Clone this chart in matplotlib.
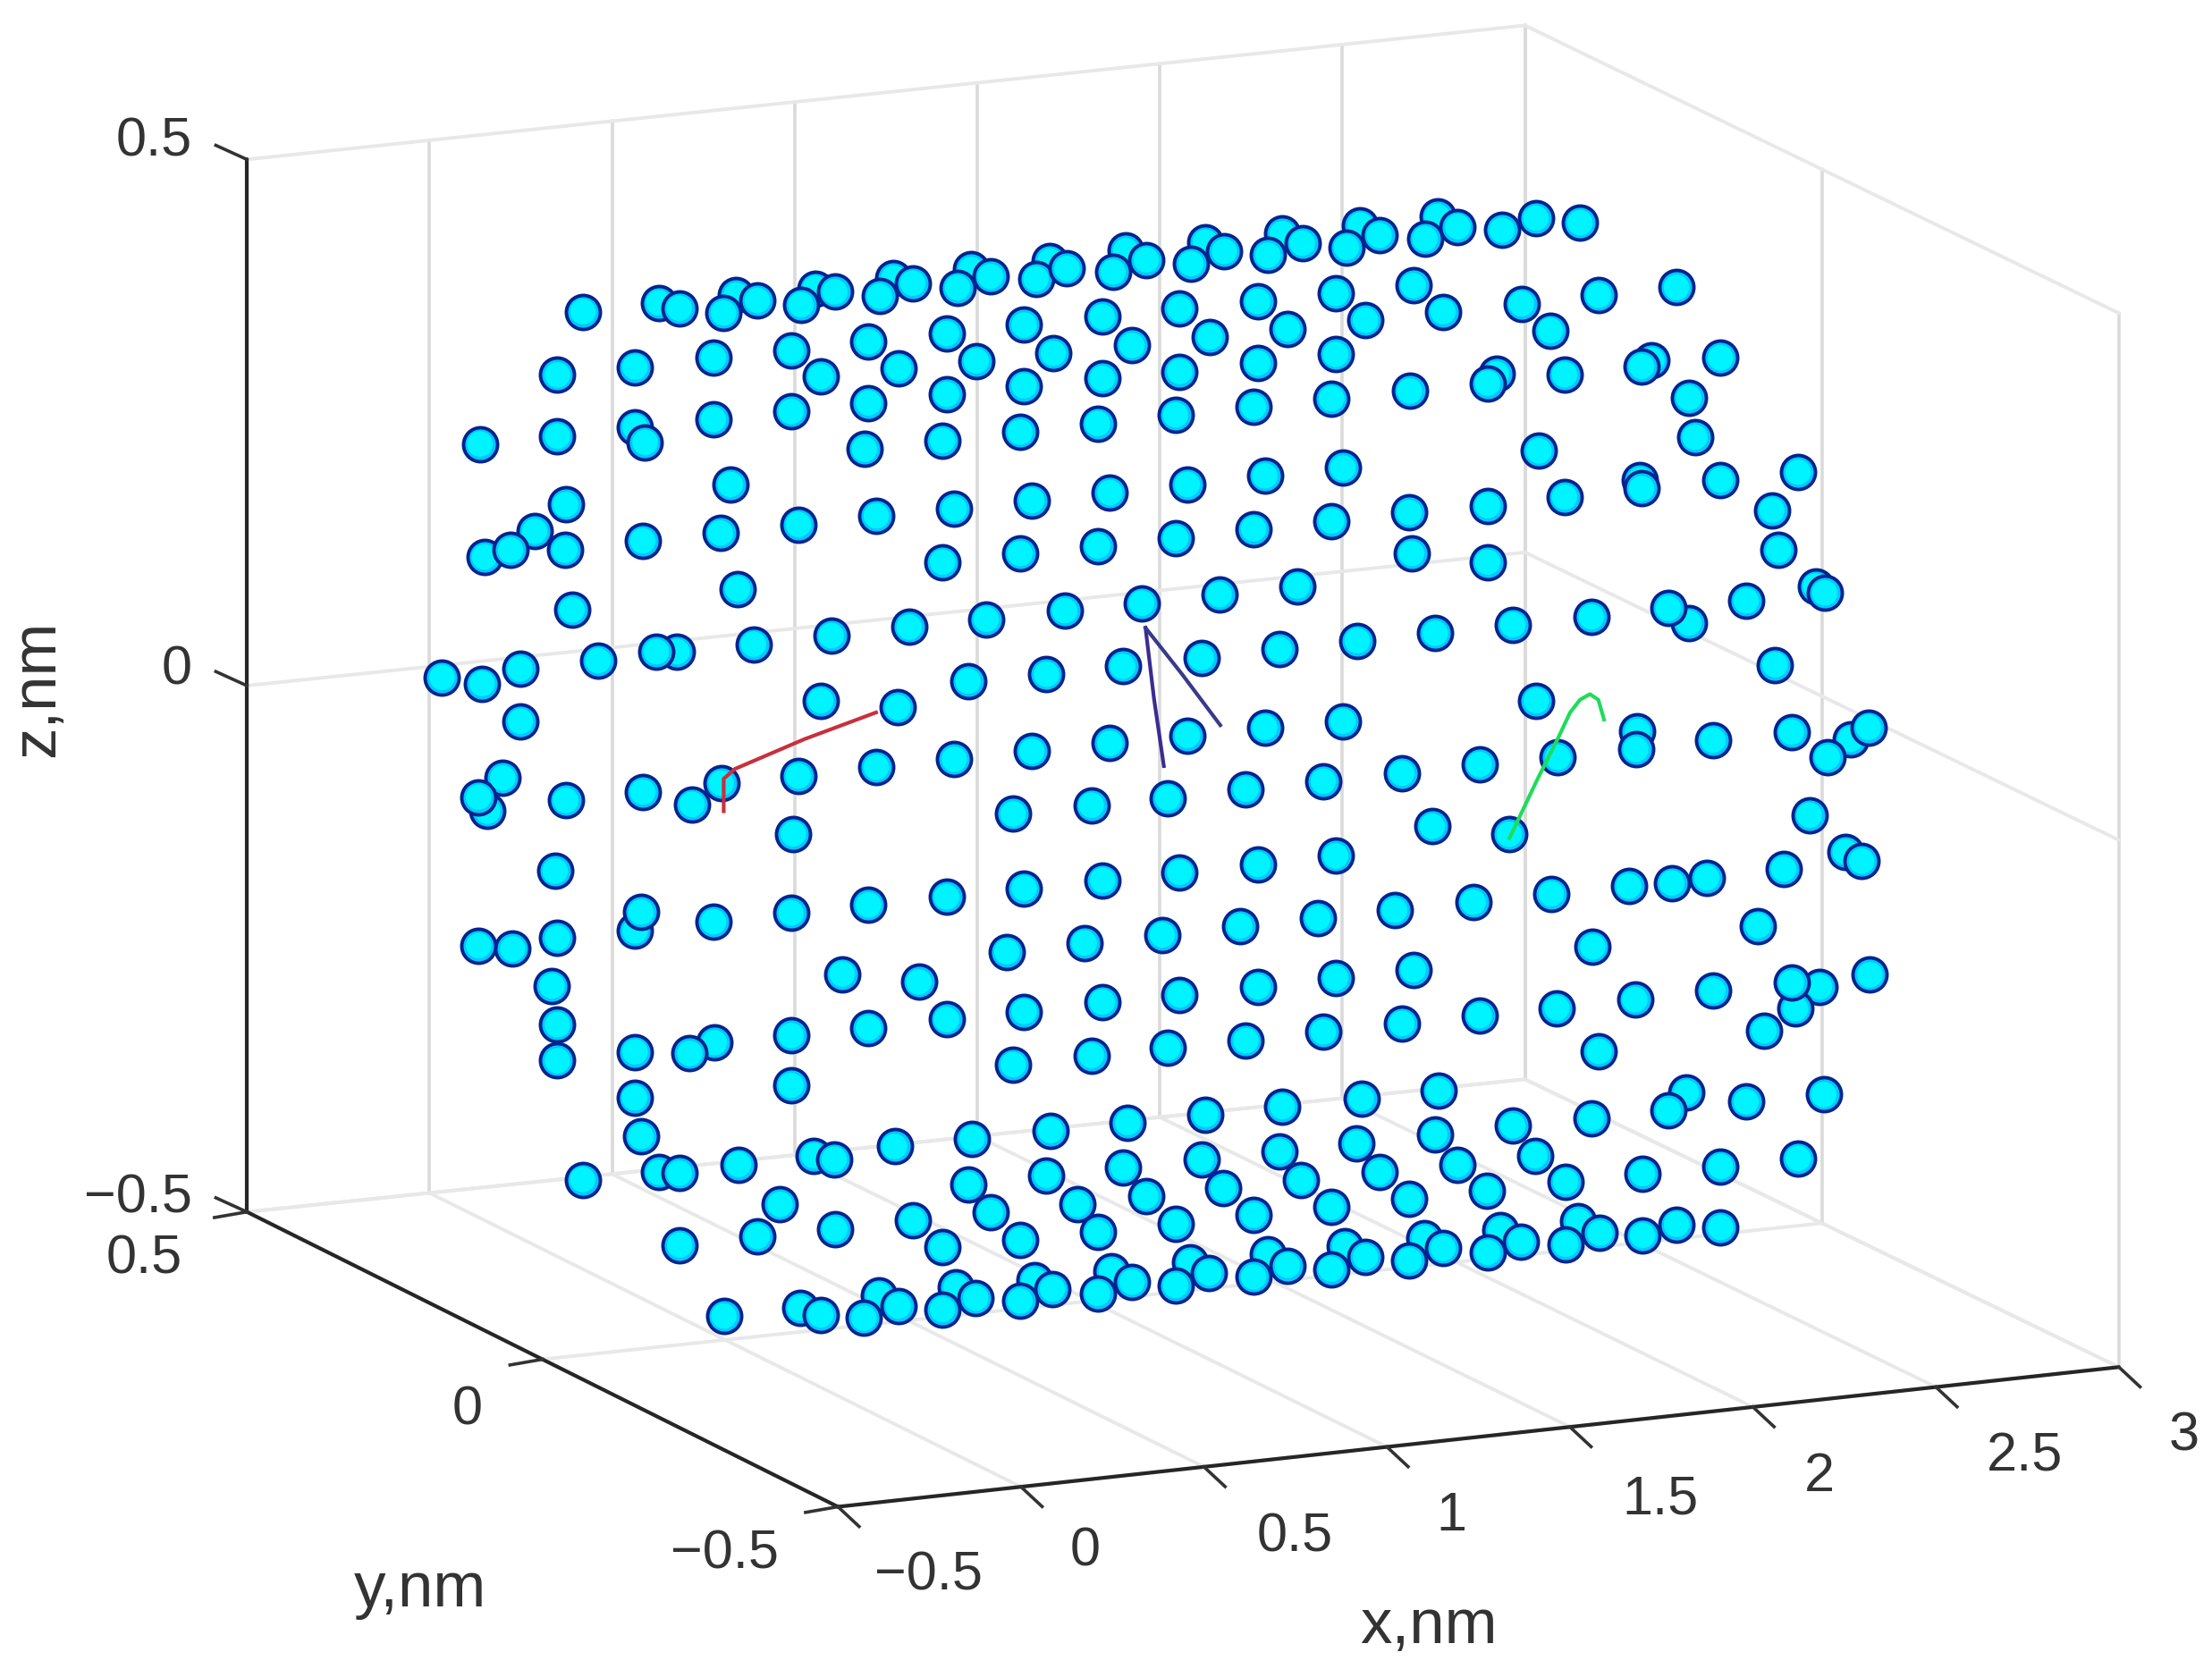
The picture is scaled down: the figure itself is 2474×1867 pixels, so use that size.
import matplotlib
matplotlib.use('Agg')
import matplotlib.pyplot as plt
import numpy as np

plt.rcParams['font.family'] = ['Liberation Sans', 'DejaVu Sans']

# box corners on screen (px of the 1568 wide view), index = (x hi, y hi, z hi)
corners = {
    (0, 1, 0): (175, 859), (1, 1, 0): (1081, 765), (0, 0, 0): (594, 1068), (1, 0, 0): (1502, 969),
    (0, 1, 1): (175, 113), (1, 1, 1): (1081, 18), (0, 0, 1): (594, 321), (1, 0, 1): (1502, 222),
}
x_lim = (-0.5, 3)
y_lim = (-0.5, 0.5)
z_lim = (-0.5, 0.5)
x_ticks = [-0.5, 0, 0.5, 1, 1.5, 2, 2.5, 3]
y_ticks = [-0.5, 0, 0.5]
z_ticks = [-0.5, 0, 0.5]

x_labels = ['\u22120.5', '0', '0.5', '1', '1.5', '2', '2.5', '3']
x_label_px = [658, 769, 918, 1029, 1177, 1290, 1435, 1548]
x_label_py = [1117, 1100, 1090, 1075, 1063, 1047, 1033, 1018]
y_labels = ['\u22120.5', '0', '0.5']
y_label_px = [514, 331, 102]
y_label_py = [1102, 1000, 893]
z_labels = ['\u22120.5', '0', '0.5']
z_label_px = [98, 125, 109]
z_label_py = [850, 475, 101]

# atom centres read per crop of the full image: (crop px, crop py)
# crop = (left, top, width, height) in the 2474 wide image, all shown 1568 wide/high
crop_ul = (400, 200, 800, 600)
crop_ur = (1200, 200, 900, 600)
crop_ll = (400, 800, 800, 700)
crop_lr = (1200, 800, 900, 700)

behind_ul = [(660, 362), (830, 340), (1003, 320), (1175, 290), (1345, 265), (1518, 240), (608, 725),
             (388, 1030), (278, 1105), (700, 1382)]
atoms_ul = [(494, 388), (705, 378), (802, 392), (876, 355), (972, 368), (1046, 330), (1144, 343),
            (1217, 305), (1315, 318), (1387, 285), (1487, 292), (1555, 262),
            (950, 502), (1120, 476), (1291, 452), (1461, 427), (1525, 510), (1356, 532), (1186, 553),
            (1015, 578), (780, 523), (608, 550), (438, 573),
            (1291, 630), (1461, 605), (1120, 655), (950, 680), (780, 703), (630, 770), (438, 752),
            (268, 775), (1452, 740), (1282, 765), (1111, 790),
            (817, 893), (456, 952), (335, 1085), (454, 1085), (625, 1058), (795, 1035), (966, 1010),
            (1137, 985), (1308, 965), (1478, 940), (1282, 1120), (1452, 1095), (833, 1198), (470, 1260),
            (527, 1408), (655, 1382), (868, 1360), (1038, 1335), (1209, 1310), (1378, 1287), (1550, 1262),
            (185, 1457), (273, 1475), (356, 1432), (1015, 1525), (1184, 1545), (1338, 1468), (1510, 1448)]

behind_ur = [(103, 210), (258, 185), (408, 160), (560, 135), (710, 110), (825, 570), (1128, 530),
             (1105, 880), (1447, 1190), (1200, 1298)]
atoms_ur = [(78, 272), (143, 237), (230, 248), (295, 212), (380, 223), (447, 188), (533, 200), (597, 165),
            (686, 175), (750, 140), (836, 150), (902, 115), (988, 128),
            (57, 403), (115, 487), (208, 380), (267, 462), (360, 358), (418, 438), (512, 335), (570, 413),
            (663, 312), (721, 388), (874, 365), (930, 443), (1024, 340), (1176, 317),
            (57, 583), (208, 563), (360, 538), (512, 513), (808, 597), (958, 572), (1108, 548), (1262, 523),
            (1200, 640), (1212, 755), (48, 715), (200, 690), (352, 667), (504, 642), (656, 620),
            (908, 795), (1413, 857), (1262, 880), (1108, 905), (958, 930), (808, 955), (655, 975),
            (526, 845), (374, 868), (223, 893), (72, 917), (1362, 968), (1375, 1085),
            (48, 1073), (200, 1050), (352, 1023), (504, 1000), (660, 1095), (808, 1120),
            (437, 1190), (285, 1215), (134, 1240), (1465, 1210), (1312, 1233), (1160, 1255), (1010, 1280),
            (857, 1303), (706, 1328), (554, 1350), (402, 1375), (250, 1400), (97, 1425), (1368, 1420),
            (903, 1525)]

behind_ll = [(285, 240), (608, 540), (782, 820), (1000, 1103), (660, 1145), (1483, 1415), (1312, 1433),
             (1142, 1452), (970, 1485)]
atoms_ll = [(357, 15), (318, 157), (265, 205), (456, 213), (625, 192), (797, 170), (733, 223), (966, 152),
            (1137, 130), (1308, 110), (1478, 90), (955, 297), (1437, 247), (433, 390),
            (1461, 433), (1291, 455), (1120, 475), (950, 495), (780, 517), (621, 493), (438, 558),
            (340, 585), (265, 577), (1423, 592), (1062, 648), (1230, 668), (426, 678), (1461, 742),
            (1291, 762), (1120, 783), (950, 802), (728, 847), (608, 843), (438, 775), (438, 865),
            (1437, 875), (950, 927), (607, 958), (621, 1055),
            (1519, 1040), (1347, 1060), (1177, 1080), (1045, 1112), (835, 1125), (705, 1147), (493, 1163),
            (1338, 1175), (1510, 1152), (1387, 1245), (1452, 1315), (1282, 1333), (1217, 1265),
            (1046, 1287), (926, 1225), (876, 1305), (706, 1327),
            (1523, 1437), (1452, 1467), (1355, 1460), (1282, 1488), (1185, 1480), (1110, 1510),
            (1015, 1502), (803, 1505)]

behind_lr = [(1100, 40), (1515, 60), (1505, 342), (1455, 680), (1408, 735), (1195, 945),
             (1176, 1275), (985, 1267), (833, 1290), (685, 1310), (530, 1330), (380, 1350), (228, 1370), (75, 1392)]
atoms_lr = [(72, 70), (223, 50), (374, 30), (526, 15), (945, 105), (1097, 85), (1247, 62), (1400, 42),
            (1470, 105), (1550, 30),
            (36, 225), (185, 207), (337, 185), (488, 165), (641, 145), (792, 123), (700, 278), (850, 298),
            (1435, 250), (58, 413), (208, 393), (360, 373), (512, 352),
            (22, 570), (174, 550), (325, 528), (477, 508), (627, 488), (780, 468), (932, 447), (1083, 428),
            (1167, 420), (1235, 407), (1385, 385), (1335, 527), (1537, 365), (1013, 580),
            (57, 718), (208, 700), (360, 680), (512, 658), (663, 637), (1247, 690), (1095, 712), (943, 733),
            (1400, 670), (1347, 790), (1553, 650),
            (36, 852), (185, 833), (337, 815), (488, 793), (641, 772), (792, 752), (1025, 842),
            (1160, 990), (1312, 968), (1463, 950), (1010, 1010), (857, 1028), (712, 940), (562, 960),
            (408, 980), (258, 1000), (107, 1020),
            (705, 1050), (750, 1125), (807, 1190), (900, 1103), (960, 1168), (1110, 1148), (1262, 1130),
            (1413, 1110), (553, 1072), (597, 1145), (655, 1212), (402, 1092), (445, 1165), (503, 1232),
            (250, 1113), (293, 1185), (352, 1252), (98, 1133), (142, 1205), (200, 1273), (48, 1295), (8, 1225),
            (1262, 1283), (1110, 1303), (1027, 1297), (960, 1325), (873, 1318), (808, 1345), (721, 1335),
            (655, 1365), (570, 1357), (503, 1387), (418, 1378), (352, 1407), (265, 1397), (200, 1428),
            (115, 1420), (48, 1448)]

# the three traced paths, in view px
red_px = [621, 570, 521, 513, 513]
red_py = [505, 524, 545, 552, 575]
blue_left_px = [812, 818, 825]
blue_left_py = [445, 495, 543]
blue_right_px = [812, 838, 865]
blue_right_py = [445, 478, 514]
green_px = [1070, 1090, 1105, 1113, 1120, 1127, 1133, 1137]
green_py = [594, 552, 522, 505, 496, 492, 496, 510]


def crop_to_view(points, crop):
    left, top, w, h = crop
    pts = np.array(points, dtype=float)
    return (left + pts[:, 0] * w / 1568) / 1.5778, (top + pts[:, 1] * h / 1568) / 1.5778


def norm(v, lim):
    return (v - lim[0]) / (lim[1] - lim[0])


def proj(x, y, z):
    u, v, w = norm(x, x_lim), norm(y, y_lim), norm(z, z_lim)
    px, py = 0.0, 0.0
    for (i, j, k), (cx, cy) in corners.items():
        f = (u if i else 1 - u) * (v if j else 1 - v) * (w if k else 1 - w)
        px += f * cx
        py += f * cy
    return px, py


def line3(ax, a, b, **kw):
    pa, pb = proj(*a), proj(*b)
    ax.plot([pa[0], pb[0]], [pa[1], pb[1]], solid_capstyle='round', **kw)


fig = plt.figure(figsize=(24.74, 18.67), dpi=100)
ax = fig.add_axes([0, 0, 1, 1])
ax.set_xlim(0, 1568)
ax.set_ylim(1183, 0)
ax.axis('off')

grid_v = dict(color='#DADADA', lw=2.6, zorder=1)
grid_h = dict(color='#E8E8E8', lw=2.8, zorder=1)
# walls: back (y hi), right (x hi), floor (z lo)
for x in x_ticks:
    line3(ax, (x, 0.5, -0.5), (x, 0.5, 0.5), **grid_v)
    line3(ax, (x, -0.5, -0.5), (x, 0.5, -0.5), **grid_h)
for y in y_ticks:
    line3(ax, (3, y, -0.5), (3, y, 0.5), **grid_v)
    line3(ax, (-0.5, y, -0.5), (3, y, -0.5), **grid_h)
for z in z_ticks:
    line3(ax, (-0.5, 0.5, z), (3, 0.5, z), **grid_h)
    line3(ax, (3, 0.5, z), (3, -0.5, z), **grid_h)

axis = dict(color='#262626', lw=3, zorder=2)
line3(ax, (-0.5, 0.5, -0.5), (-0.5, 0.5, 0.5), **axis)
line3(ax, (-0.5, 0.5, -0.5), (-0.5, -0.5, -0.5), **axis)
line3(ax, (-0.5, -0.5, -0.5), (3, -0.5, -0.5), **axis)

tick = dict(color='#333333', lw=2.6, zorder=2)
for x in x_ticks:
    p = proj(x, -0.5, -0.5)
    ax.plot([p[0], p[0] + 15], [p[1], p[1] + 14], **tick)
for y in y_ticks:
    p = proj(-0.5, y, -0.5)
    ax.plot([p[0], p[0] - 23], [p[1], p[1] + 4], **tick)
for z in z_ticks:
    p = proj(-0.5, 0.5, z)
    ax.plot([p[0], p[0] - 22], [p[1], p[1] - 10], **tick)

label_kw = dict(ha='center', va='center', fontsize=44, color='#333333')
for s, px, py in zip(x_labels, x_label_px, x_label_py):
    ax.text(px, py, s, **label_kw)
for s, px, py in zip(y_labels, y_label_px, y_label_py):
    ax.text(px, py, s, **label_kw)
for s, px, py in zip(z_labels, z_label_px, z_label_py):
    ax.text(px, py, s, **label_kw)
ax.text(298, 1127, 'y,nm', ha='center', va='center', fontsize=51, color='#333333')
ax.text(1013, 1153, 'x,nm', ha='center', va='center', fontsize=51, color='#333333')
ax.text(27, 488, 'z,nm', ha='center', va='center', fontsize=51, color='#333333', rotation=90)

groups = [(behind_ul, crop_ul), (behind_ur, crop_ur), (behind_ll, crop_ll), (behind_lr, crop_lr),
          (atoms_ul, crop_ul), (atoms_ur, crop_ur), (atoms_ll, crop_ll), (atoms_lr, crop_lr)]
for n, (pts, crop) in enumerate(groups):
    px, py = crop_to_view(pts, crop)
    ax.scatter(px, py, s=750, c='#00C8FF', edgecolors='#00248F', linewidths=2.8, zorder=3 + n * 0.01)
    ax.scatter(px, py, s=420, c='#00F4FF', edgecolors='none', zorder=3 + n * 0.01)

ax.plot(red_px, red_py, color='#C8303C', lw=3, zorder=4)
ax.plot(blue_left_px, blue_left_py, color='#3B2C90', lw=3, zorder=4)
ax.plot(blue_right_px, blue_right_py, color='#3B3A88', lw=3, zorder=4)
ax.plot(green_px, green_py, color='#1FDC5A', lw=3, zorder=4)

fig.savefig('out.png', dpi=100, facecolor='white')
